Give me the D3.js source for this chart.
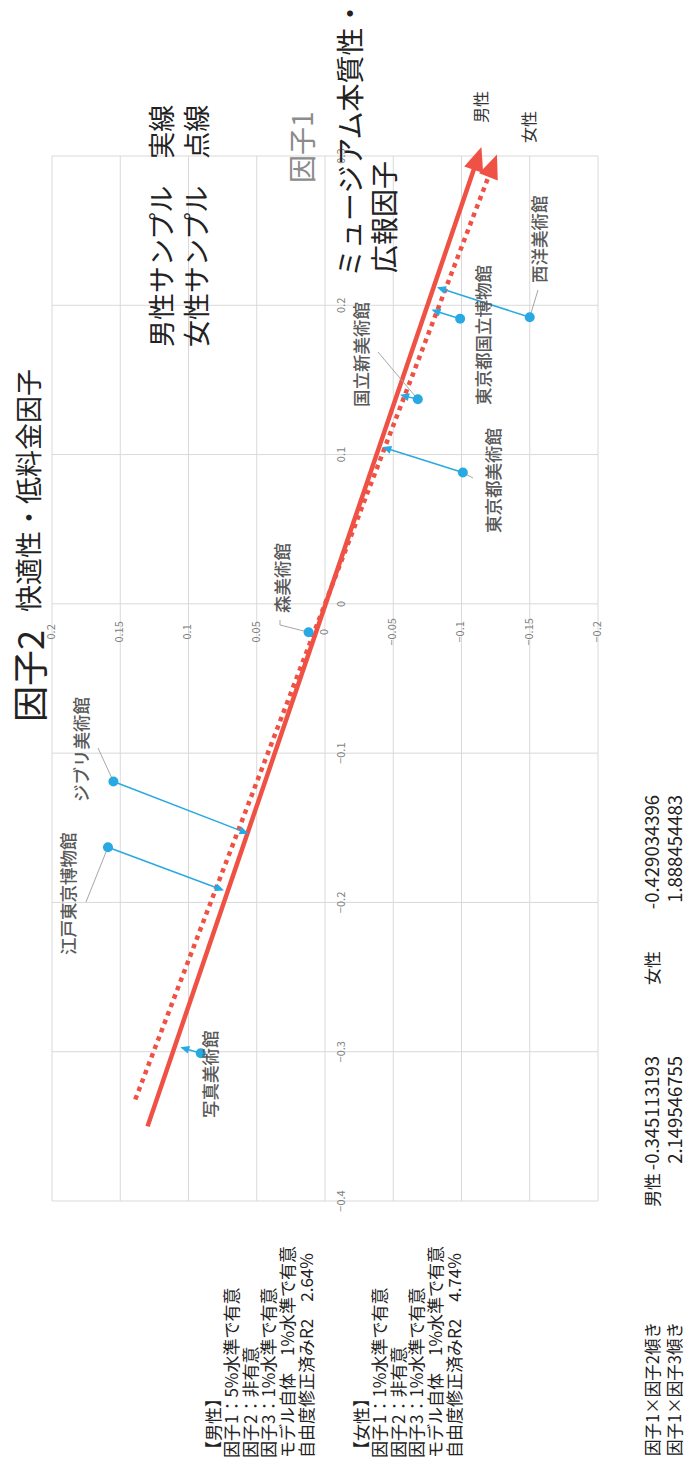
<!DOCTYPE html>
<html><head><meta charset="utf-8">
<script src="https://cdn.jsdelivr.net/npm/d3@7/dist/d3.min.js"></script>
<style>
html,body{margin:0;padding:0;background:#fff;}
svg{display:block;}
text{font-family:"Noto Sans CJK JP","Noto Sans",sans-serif;}
</style></head>
<body>
<script>
// ---- data ----
const xTicks = [-0.4,-0.3,-0.2,-0.1,0,0.1,0.2,0.3];
const yTicks = [-0.2,-0.15,-0.1,-0.05,0,0.05,0.1,0.15,0.2];
const museums = ["森美術館","ジブリ美術館","江戸東京博物館","写真美術館","東京都美術館","国立新美術館","東京都国立博物館","西洋美術館"];
const factor1 = [-0.019,-0.119,-0.163,-0.301,0.088,0.137,0.191,0.192];
const factor2 = [0.012,0.155,0.159,0.091,-0.101,-0.068,-0.099,-0.150];
const arrowF1 = [null,-0.154,-0.192,-0.297,0.105,0.140,0.197,0.212];
const arrowF2 = [null,0.056,0.074,0.106,-0.042,-0.055,-0.078,-0.082];
const maleLineF1 = [-0.350,0.306];
const maleLineF2 = [0.130,-0.1146];
const femaleLineF1 = [-0.332,0.301];
const femaleLineF2 = [0.139,-0.126];
const maleNotes = ["【男性】","因子1：5%水準で有意","因子2：非有意","因子3：1%水準で有意","モデル自体　1%水準で有意","自由度修正済みR2　2.64%"];
const femaleNotes = ["【女性】","因子1：1%水準で有意","因子2：非有意","因子3：1%水準で有意","モデル自体　1%水準で有意","自由度修正済みR2　4.74%"];
const slopeRows = ["因子1×因子2傾き","因子1×因子3傾き"];
const slopeMale = ["-0.345113193","2.149546755"];
const slopeFemale = ["-0.429034396","1.888454483"];

// ---- layout (landscape frame 1459 x 688, rotated into portrait) ----
const W = 1459, H = 688;
const labelPos = [[846,281],[657,80],[504,67],[341,209],[926,492],[1052,360],[1054,482],[1176,538]];
const leaderPts = [[[839,280],[834,280]],[[711,98]],[[557,86]],null,[[981,473]],[[1107,378]],null,[[1169,538]]];

const svg = d3.select("body").append("svg").attr("width",688).attr("height",1459);
const g = svg.append("g").attr("transform","translate(0,1459) rotate(-90)");

const x = d3.scaleLinear().domain([-0.4,0.3]).range([258,1303]);
const y = d3.scaleLinear().domain([-0.2,0.2]).range([598,52]);

const grid = "#d9d9d9";
// gridlines
g.append("g").selectAll("line").data(xTicks).join("line")
  .attr("x1",d=>x(d)).attr("x2",d=>x(d)).attr("y1",y(0.2)).attr("y2",y(-0.2))
  .attr("stroke",grid).attr("stroke-width",1);
g.append("g").selectAll("line").data(yTicks).join("line")
  .attr("y1",d=>y(d)).attr("y2",d=>y(d)).attr("x1",x(-0.4)).attr("x2",x(0.3))
  .attr("stroke",grid).attr("stroke-width",1);

// tick labels
const fmt = d => { const s = d3.format(".2~f")(d); return s === "-0" ? "0" : s; };
g.append("g").selectAll("text").data(xTicks).join("text")
  .attr("x",d=>x(d)).attr("y",y(0)+17).attr("text-anchor","middle")
  .attr("dominant-baseline","middle").attr("font-size",11).attr("fill","#7f7f7f")
  .text(fmt);
g.append("g").selectAll("text").data(yTicks).join("text")
  .attr("x",x(0)-28).attr("y",d=>y(d)).attr("text-anchor","middle")
  .attr("dominant-baseline","middle").attr("font-size",11).attr("fill","#7f7f7f")
  .text(fmt);

// red regression lines with arrowheads
const red = "#EF5244";
function arrowLine(f1s,f2s,color,width,dash,headLen,headHalf){
  const x0=x(f1s[0]), y0=y(f2s[0]), x1=x(f1s[1]), y1=y(f2s[1]);
  const dx=x1-x0, dy=y1-y0, L=Math.hypot(dx,dy), ux=dx/L, uy=dy/L;
  const ex=x1-ux*headLen*0.8, ey=y1-uy*headLen*0.8;
  const ln = g.append("line").attr("x1",x0).attr("y1",y0).attr("x2",ex).attr("y2",ey)
    .attr("stroke",color).attr("stroke-width",width);
  if(dash) ln.attr("stroke-dasharray",dash);
  const bx=x1-ux*headLen, by=y1-uy*headLen;
  g.append("path").attr("d",`M${x1},${y1}L${bx-uy*headHalf},${by+ux*headHalf}L${bx+uy*headHalf},${by-ux*headHalf}Z`)
    .attr("fill",color);
}
arrowLine(maleLineF1,maleLineF2,red,4.5,null,24,10);
arrowLine(femaleLineF1,femaleLineF2,red,4.5,"4.5,4.5",24,10);

// museum leaders
const lead = "#a6a6a6";
museums.forEach((m,i)=>{
  if(!leaderPts[i]) return;
  const pts = leaderPts[i].concat([[x(factor1[i]),y(factor2[i])]]);
  g.append("path").attr("d",d3.line()(pts)).attr("fill","none").attr("stroke",lead).attr("stroke-width",1);
});

// blue arrows
const blue = "#29A9E1";
museums.forEach((m,i)=>{
  if(arrowF1[i]===null) return;
  arrowLine([factor1[i],arrowF1[i]],[factor2[i],arrowF2[i]],blue,1.5,null,9,4);
});
// dots
g.append("g").selectAll("circle").data(museums).join("circle")
  .attr("cx",(d,i)=>x(factor1[i])).attr("cy",(d,i)=>y(factor2[i])).attr("r",5).attr("fill",blue);

// museum labels
g.append("g").selectAll("text").data(museums).join("text")
  .attr("x",(d,i)=>labelPos[i][0]).attr("y",(d,i)=>labelPos[i][1])
  .attr("dominant-baseline","central").attr("font-size",17.5).attr("fill","#595959").attr("font-weight",500)
  .text(d=>d);

// titles
g.append("text").attr("x",737).attr("y",28).attr("dominant-baseline","central").attr("font-size",36).attr("fill","#222").text("因子2");
g.append("text").attr("x",847).attr("y",27).attr("dominant-baseline","central").attr("font-size",27).attr("fill","#222").text("快適性・低料金因子");
g.append("text").attr("x",1276).attr("y",301).attr("dominant-baseline","central").attr("font-size",28).attr("fill","#8c8c8c").text("因子1");
g.append("text").attr("x",1182).attr("y",349).attr("dominant-baseline","central").attr("font-size",28).attr("fill","#222").text("ミュージアム本質性・");
g.append("text").attr("x",1186).attr("y",383).attr("dominant-baseline","central").attr("font-size",28).attr("fill","#222").text("広報因子");
g.append("text").attr("x",1112).attr("y",160).attr("dominant-baseline","central").attr("font-size",27).attr("fill","#222").text("男性サンプル　実線");
g.append("text").attr("x",1112).attr("y",195).attr("dominant-baseline","central").attr("font-size",27).attr("fill","#222").text("女性サンプル　点線");
g.append("text").attr("x",1336).attr("y",480).attr("dominant-baseline","central").attr("font-size",16).attr("fill","#333").text("男性");
g.append("text").attr("x",1316).attr("y",528).attr("dominant-baseline","central").attr("font-size",16).attr("fill","#333").text("女性");

// notes
g.append("g").selectAll("text").data(maleNotes).join("text")
  .attr("x",1).attr("y",(d,i)=>212+i*18.6).attr("dominant-baseline","central").attr("font-size",17).attr("fill","#222").text(d=>d);
g.append("g").selectAll("text").data(femaleNotes).join("text")
  .attr("x",1).attr("y",(d,i)=>360+i*18.6).attr("dominant-baseline","central").attr("font-size",17).attr("fill","#222").text(d=>d);

// slope table
slopeRows.forEach((r,i)=>{
  const yy = 651 + i*22.5;
  g.append("text").attr("x",3).attr("y",yy).attr("dominant-baseline","central").attr("font-size",17).attr("textLength",134).attr("lengthAdjust","spacingAndGlyphs").attr("fill","#222").text(r);
  g.append("text").attr("x",403).attr("y",yy).attr("text-anchor","end").attr("dominant-baseline","central").attr("font-size",18.5).attr("fill","#222").text(slopeMale[i]);
  g.append("text").attr("x",664).attr("y",yy).attr("text-anchor","end").attr("dominant-baseline","central").attr("font-size",18.5).attr("fill","#222").text(slopeFemale[i]);
});
g.append("text").attr("x",252).attr("y",651).attr("dominant-baseline","central").attr("font-size",17).attr("fill","#222").text("男性");
g.append("text").attr("x",474).attr("y",651).attr("dominant-baseline","central").attr("font-size",17).attr("fill","#222").text("女性");
</script>
</body></html>
